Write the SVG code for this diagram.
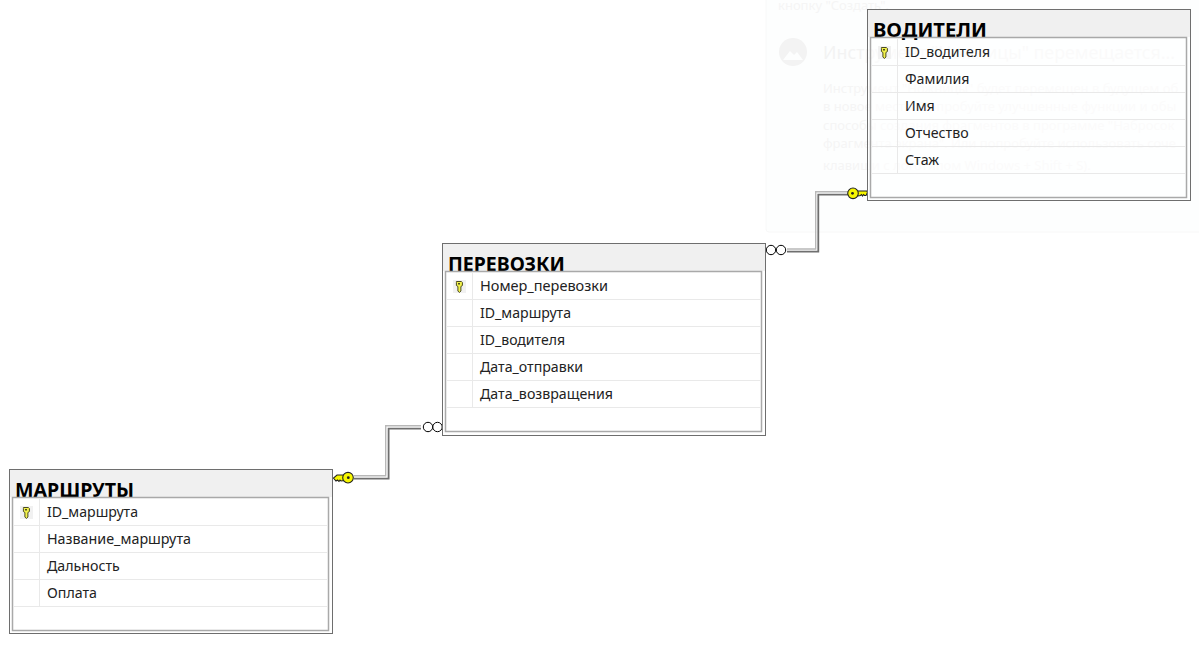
<svg xmlns="http://www.w3.org/2000/svg" width="1199" height="645" viewBox="0 0 1199 645">
<style>
text{font-family:"Noto Sans","Open Sans","Liberation Sans",sans-serif}
.outer{fill:#fff;fill-opacity:.6;stroke:#6e6e6e;stroke-width:1}
.inner{fill:none;stroke:#a9a9a9;stroke-width:1.5}
.head{fill:#f0f0f0}
.title{font-size:20px;font-weight:700;fill:#000}
.field{font-size:14.2px;fill:#222}
.row{stroke:#e9e9e9;stroke-width:1}
.ghost{fill:#f5f5f5;font-size:13px}
.ghostH{fill:#f3f3f3;font-size:18.5px}
.lt{fill:none;stroke:#b8b8b8;stroke-width:1.4}
.dk{fill:none;stroke:#6f6f6f;stroke-width:1.8}
.crow{fill:#fff;stroke:#000;stroke-width:1}
.key{fill:#f6f600;stroke:#222;stroke-width:1.1}
</style>
<defs>
<g id="pk">
<rect x="-6" y="-6" width="13" height="13" fill="#f1f1f1"/>
<path d="M-2.6-4.5h5l1 1v3l-1.5 1v4.500l-1.500 1.500-1.500-1.500v-4.500l-1.500-1v-3z" fill="#f2f24a" stroke="#4a4a20" stroke-width="1"/>
<rect x="-1" y="-3" width="2" height="1.500" fill="#4a4a20"/>
</g>
</defs>
<rect x="0" y="0" width="1199" height="645" fill="#fff"/>
<g id="backdrop">
<rect x="766" y="-10" width="445" height="242" rx="3" fill="#fdfefe" stroke="#f8f8f8"/>
<text class="ghost" x="778" y="10">кнопку "Создать".</text>
<circle cx="793" cy="52" r="14" fill="#f3f3f3"/>
<path d="M783 60l7-9 4 4 3-3 6 8z" fill="#fdfefe"/>
<text class="ghostH" x="823" y="59" textLength="352" lengthAdjust="spacingAndGlyphs">Инструмент "Ножницы" перемещается...</text>
<text class="ghost" x="823" y="93">Инструмент "Ножницы" будет перемещен в будущем об</text>
<text class="ghost" x="823" y="111">в новое место. Попробуйте улучшенные функции и обы</text>
<text class="ghost" x="823" y="130">способы создания фрагментов в программе "Набросок</text>
<text class="ghost" x="823" y="148">фрагмента экрана". Или попробуйте использовать соче</text>
<text class="ghost" x="823" y="170">клавиши с логотипом Windows + Shift + S).</text>
</g>
<g id="connectors">
<path class="lt" d="M855 191.700H815.700V249H787"/>
<path class="dk" d="M855 194.600H818.300V251.600H787"/>
<circle class="crow" cx="771" cy="250" r="4.700"/>
<circle class="crow" cx="781" cy="250" r="4.700"/>
<path class="lt" d="M421 425.700H385.700V475.700H354"/>
<path class="dk" d="M421 428.600H388.600V478.600H354"/>
<circle class="crow" cx="428" cy="427" r="4.700"/>
<circle class="crow" cx="437.500" cy="427" r="4.700"/>
<g id="key-top">
<path class="key" d="M857 191h10l.5 1.500-1.500 3h-1.500l-1-1-1 1.500-1-1.500-1 1-3.500.5z"/>
<circle class="key" cx="853" cy="193.300" r="5.300"/>
<circle cx="852.500" cy="193.300" r="1.400" fill="#222"/>
</g>
<g id="key-bottom">
<path class="key" d="M344 475h-7l-3.500 3 2.500 3 1.500-1 1.500 1.500 1-1.500 1 1 3.500-.5z"/>
<circle class="key" cx="348" cy="477.700" r="5.300"/>
<circle cx="348.300" cy="477.700" r="1.400" fill="#222"/>
</g>
</g>
<g id="t-voditeli">
<rect class="outer" x="867.500" y="9.500" width="323" height="191"/>
<rect class="head" x="868" y="10" width="322" height="27"/>
<text class="title" x="873" y="37" textLength="114" lengthAdjust="spacingAndGlyphs">ВОДИТЕЛИ</text>
<rect class="inner" x="870.500" y="37.500" width="316" height="160"/>
<path class="row" d="M871 65.500H1186M871 92.500H1186M871 119.500H1186M871 146.500H1186M871 173.500H1186M897.500 38V173"/>
<use href="#pk" x="884" y="52"/>
<text class="field" x="905" y="57" textLength="85" lengthAdjust="spacingAndGlyphs">ID_водителя</text>
<text class="field" x="905" y="84">Фамилия</text>
<text class="field" x="905" y="111">Имя</text>
<text class="field" x="905" y="138">Отчество</text>
<text class="field" x="905" y="165">Стаж</text>
</g>
<g id="t-perevozki">
<rect class="outer" x="442.500" y="243.500" width="323" height="192"/>
<rect class="head" x="443" y="244" width="322" height="27"/>
<text class="title" x="448" y="271" textLength="117" lengthAdjust="spacingAndGlyphs">ПЕРЕВОЗКИ</text>
<rect class="inner" x="445.500" y="271.500" width="316" height="160"/>
<path class="row" d="M446 299.500H761M446 326.500H761M446 353.500H761M446 380.500H761M446 407.500H761M472.500 272V407"/>
<use href="#pk" x="459" y="286"/>
<text class="field" x="480" y="291" textLength="128" lengthAdjust="spacingAndGlyphs">Номер_перевозки</text>
<text class="field" x="480" y="318" textLength="91" lengthAdjust="spacingAndGlyphs">ID_маршрута</text>
<text class="field" x="480" y="345" textLength="85" lengthAdjust="spacingAndGlyphs">ID_водителя</text>
<text class="field" x="480" y="372" textLength="103" lengthAdjust="spacingAndGlyphs">Дата_отправки</text>
<text class="field" x="480" y="399" textLength="133" lengthAdjust="spacingAndGlyphs">Дата_возвращения</text>
</g>
<g id="t-marshruty">
<rect class="outer" x="9.500" y="469.500" width="323" height="164"/>
<rect class="head" x="10" y="470" width="322" height="27"/>
<text class="title" x="15" y="497" textLength="119" lengthAdjust="spacingAndGlyphs">МАРШРУТЫ</text>
<rect class="inner" x="12.500" y="497.500" width="316" height="133"/>
<path class="row" d="M13 525.500H328M13 552.500H328M13 579.500H328M13 606.500H328M39.500 498V606"/>
<use href="#pk" x="26" y="512"/>
<text class="field" x="47" y="517" textLength="91" lengthAdjust="spacingAndGlyphs">ID_маршрута</text>
<text class="field" x="47" y="544" textLength="144" lengthAdjust="spacingAndGlyphs">Название_маршрута</text>
<text class="field" x="47" y="571">Дальность</text>
<text class="field" x="47" y="598">Оплата</text>
</g>
</svg>
